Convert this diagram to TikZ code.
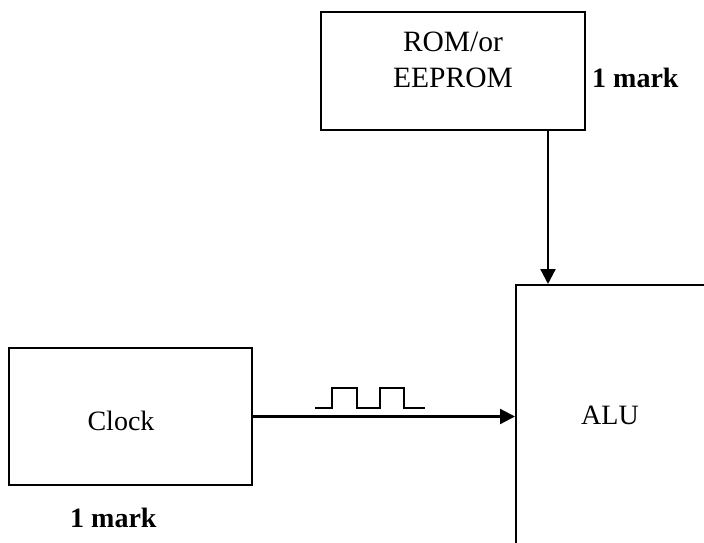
\documentclass[tikz,border=0pt]{standalone}
\usepackage{fontspec}
\setmainfont{Liberation Serif}
\usetikzlibrary{arrows.meta,calc}
\begin{document}
\begin{tikzpicture}[x=1pt,y=-1pt,
  box/.style={draw,line width=2pt,rectangle,inner sep=0pt},
  arr/.style={line width=2.2pt,-{Triangle[length=15pt,width=15pt]}},
  lbl/.style={font=\fontsize{28}{32}\selectfont,inner sep=0pt,anchor=base},
  bold/.style={font=\fontsize{28}{32}\selectfont\bfseries,inner sep=0pt,anchor=base west}]
\useasboundingbox (0,0) rectangle (704,543);
\clip (0,0) rectangle (704,543);
% boxes
\node[box,minimum width=264pt,minimum height=118pt] (rom) at (453,71) {};
\node[box,minimum width=243.5pt,minimum height=137pt] (clk) at (130.25,416.5) {};
\node[box,minimum width=400pt,minimum height=400pt,anchor=north west] (alu) at (515,284) {};
% texts
\node[lbl,font=\fontsize{29.5}{35}\selectfont] (romA) at (453,52) {ROM/or};
\node[lbl,font=\fontsize{29.5}{35}\selectfont] (romB) at (453,87) {EEPROM};
\node[lbl] (clkT) at (121,430) {Clock};
\node[lbl] (aluT) at (610,424) {ALU};
\node[bold] (mark1) at (592,87) {1 mark};
\node[bold] (mark2) at (70,527) {1 mark};
% connectors
\coordinate (romout) at ($(rom.south east)+(-38,0)$);
\draw[arr] (romout) -- (romout |- alu.north);
\draw[arr] (clk.east) -- (clk.east -| alu.west);
% clock waveform
\draw[line width=2pt] (315,407.5) -- (332,407.5) -- (332,388) -- (357,388) -- (357,407.5)
  -- (380,407.5) -- (380,388) -- (404,388) -- (404,407.5) -- (425,407.5);
\end{tikzpicture}
\end{document}
